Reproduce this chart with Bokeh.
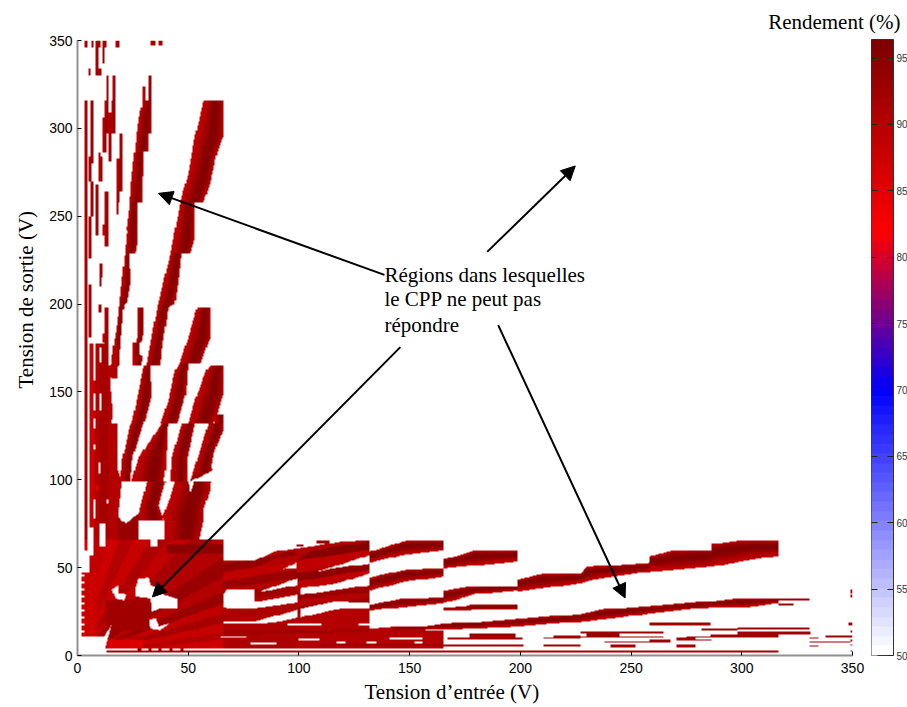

import numpy as np
from bokeh.plotting import figure
from bokeh.embed import file_html
from bokeh.resources import INLINE
from bokeh.models import LinearColorMapper, ColorBar, FixedTicker, Label, Arrow, NormalHead, Range1d, Title

XLABEL = "Tension d\u2019entr\u00e9e (V)"
YLABEL = "Tension de sortie (V)"
BARTITLE = "Rendement (%)"
NOTE = ["R\u00e9gions dans lesquelles", "le CPP ne peut pas", "r\u00e9pondre"]
TICKS = [0, 50, 100, 150, 200, 250, 300, 350]
BAR_TICKS = [50, 55, 60, 65, 70, 75, 80, 85, 90, 95]
LOW, HIGH = 50, 96.4

# colour map anchor points (value, r, g, b)
CMAP_STOPS = [(50, 255, 255, 255), (70, 0, 0, 255), (82, 255, 0, 0), (96.4, 128, 0, 0)]

# operating regions: (input V, output V) outlines
RAYS = [
    [(57,316),(66,316),(66,296),(63,286),(60,269),(57,258),(53,258),(53,237),(51,229),(47,229),(46,217),(44,200),(41,198),(39,181),(38,172),(37.5,165),(31,165),(36,198),(42,229),(44,242),(47,261),(50,274),(53,295)],
    [(54,198),(60,198),(60,181),(55.5,166),(50,166),(49,149),(45,132),(37.5,132),(41,145),(44,162),(46,166),(50,181)],
    [(60,165),(66,165),(66,149),(61.5,132),(50,132),(53,145),(58,162)],
    [(30,165),(33,165),(33.5,147),(30,132),(24.5,132),(27,147)],
    [(22,242),(23.5,255),(24,267),(26,289),(27,301),(28.5,312),(29.3,312),(29.3,324),(30.5,324),(30.5,316),(32,316),(32,330),(33.5,330),(33.5,297),(32,297),(32,287),(30,287),(29.5,258),(27,258),(27,242)],
    [(22.4,242),(27.2,242),(27.2,236.4),(26.1,229),(23.6,228.8),(23.9,211.7),(22.4,201.3),(20.9,199.4),(20.4,190.8),(19.4,177.5),(18.9,165),(17.9,164),(17.9,157.5),(15.6,157.5),(15.3,151),(15.2,165),(16.1,175.6),(17.9,189),(19.4,206),(20.9,223)],
    [(27,198),(30,198),(30,183),(29,178),(26.5,178),(27,183)],
    [(25,178),(28,178),(28,172),(29.5,170),(29,165),(25,165)],
    # y 99-132 rays
    [(23.9,132),(29.9,132),(24.9,113),(23.9,99),(19.4,99),(20.1,111.2)],
    [(38.1,132),(40.8,132),(39.9,106.5),(38.9,99),(24.3,99),(27.6,113),(30.9,118.8)],
    [(47.1,132),(53.1,132),(49.4,111),(49.4,99),(41.9,99),(42.6,113)],
    [(59.1,132),(65.9,132),(65.9,128),(62,117),(60.5,108),(61,105),(56,102),(50.9,99)],
    [(62,137),(66,137),(66,132),(62,132)],
    # y 66-99 rays
    [(31.4,99),(39.9,99),(36.6,85.6),(38.9,77),(27.6,77),(27.6,80.8)],
    [(44.1,99),(60.3,99),(59.9,94),(56.9,82.7),(56.9,76),(54.9,66),(39.6,66),(39.6,76),(38.4,79),(41.9,90)],
]
STRIPS = [
    [(3.2,60),(4.5,60),(4.5,316),(3.2,316)],
    [(6.2,280),(7.1,280),(7.1,316),(6.2,316)],
    [(5,270),(6.7,270),(6.7,284),(5,284)],
    [(6.2,250),(7.1,250),(7.1,270),(6.2,270)],
    [(5,226),(6.7,226),(6.7,250),(5,250)],
    [(5,181),(6.7,181),(6.7,211),(5,211)],
    [(8,258),(9.5,258),(9.5,268),(8,268)],
    [(8,239),(9.3,239),(9.3,258),(8,258)],
    [(9.5,270),(10.5,270),(10.5,286),(9.5,286)],
    [(10,270),(11.5,270),(11.5,284),(10,284)],
    [(3.2,346),(4.5,346),(4.5,350),(3.2,350)],
    [(6.3,346),(7.2,346),(7.2,350),(6.3,350)],
    [(8,346),(10.4,346),(10.4,350),(8,350)],
    [(11.3,346),(13,346),(13,350),(11.3,350)],
    [(17,346),(19,346),(19,350),(17,350)],
    [(33,347),(35,347),(35,350),(33,350)],
    [(36.5,347),(38.4,347),(38.4,350),(36.5,350)],
    [(8,330),(9.5,330),(9.5,347),(8,347)],
    [(11.3,337),(12.2,337),(12.2,347),(11.3,347)],
    [(5,330),(6.2,330),(6.2,334),(5,334)],
    [(9.7,330),(11,330),(11,334),(9.7,334)],
    [(13,316),(14,316),(14,330),(13,330)],
    [(16.2,316),(17.2,316),(17.2,330),(16.2,330)],
    [(12.2,297),(14,297),(14,316),(12.2,316)],
    [(14,297),(16.6,297),(16.6,309),(14,309)],
    [(15.3,297),(16.8,297),(16.8,316),(15.3,316)],
    [(11.3,286),(13,286),(13,306),(11.3,306)],
    [(14,281),(15.3,281),(15.3,297),(14,297)],
    [(19,283),(20.3,283),(20.3,297),(19,297)],
    [(17.6,264),(20.3,264),(20.3,283),(17.6,283)],
    [(17.6,258),(19,258),(19,264),(17.6,264)],
    [(17.3,251),(18.6,251),(18.6,258),(17.3,258)],
    [(12.2,239),(14,239),(14,264),(12.2,264)],
    [(11.3,239),(13,239),(13,245),(11.3,245)],
    [(12,233),(14,233),(14,243),(12,243)],
    [(10,215),(11.5,215),(11.5,223),(10,223)],
    [(10,210),(11,210),(11,215),(10,215)],
    [(9.5,195),(11,195),(11,200),(9.5,200)],
    [(12.2,183),(14,183),(14,198),(12.2,198)],
    [(11.3,178),(14,178),(14,183),(11.3,183)],
]
CLUSTER = [
    [(5.4,128),(5.4,177.5),(11.9,177.5),(11.9,183),(14.1,183),(14.1,165),(15.2,165),(15.2,151),(15.9,141.4),(15.6,128)],
    [(5.4,66),(5.4,139.7),(15.6,139.7),(15.6,132),(17.9,132),(17.9,106.5),(20.1,99),(18.3,79),(21.6,75),(21.6,66)],
    [(21.6,75),(27.6,80.8),(27.6,66),(21.6,66)],
]
BASE = [
    [(2.2,47),(2.2,11),(12,11),(15.5,17.5),(14,11),(12.6,5),(12.6,4),(66,4),(66,66),(5.4,66),(5.4,47)],
    [(66,4),(66,54),(80,54),(89,59),(99,61),(106,62),(118.7,64.8),(132,65.7),(132,4)],
    [(132,4),(132,15.4),(143,16.4),(156,16.4),(165.6,18),(165.6,4)],
]
# shaded sectors of the x,y<=66 block: (slope low, slope high, value)
FAN = [(0.0,0.08,86),(0.08,0.14,87),(0.14,0.2,90),(0.2,0.28,88),(0.28,0.36,92),(0.36,0.45,89),(0.45,0.55,93),
       (0.55,0.68,90),(0.68,0.85,93),(0.85,1.05,90),(1.05,1.3,92),(1.3,1.6,89),(1.6,2,91),
       (2,2.6,88),(2.6,3.5,90),(3.5,5,87),(5,9,89),(9,30,86)]
FAN_LIMIT = 66
# flat tint overlays on the filled regions: (value, outline)
TINTS = [
    (87, [(2.2,47),(2.2,11),(9,11),(9,47)]),
    (86, [(13,4),(30,4),(30,9),(13,9)]),
    (92.5, [(12.6,14),(33,14),(33,31.6),(12.6,31.6)]),
    (94.5, [(40,58),(66,58),(66,63),(40,63)]),
    # bands of the 66-99 V block
    (91, [(66,4),(99,4),(99,21),(66,17)]),
    (94, [(66,48),(80,50),(89,55),(99,57),(99,60),(89,57),(66,52)]),
    (89, [(66,42),(99,50),(99,54),(66,47)]),
    (93, [(66,38),(99,44),(99,49),(66,42)]),
    (92.5, [(66,31),(99,35),(99,40),(66,36)]),
    (91, [(66,20),(99,26),(99,30),(66,26)]),
    # bands of the 99-132 V block
    (90, [(99,4),(132,4),(132,25),(99,21)]),
    (95, [(99,54),(132,60),(132,65),(106,60)]),
    (89, [(99,47),(132,57),(132,60),(99,54)]),
    (94.5, [(99,42),(132,49),(132,52),(99,47)]),
    (89, [(99,38),(132,46),(132,49),(99,42)]),
    (93.5, [(99,32),(132,36),(132,39),(99,35)]),
    (93, [(99,24),(132,30),(132,33),(99,28)]),
    (92.5, [(66,12),(132,13),(132,15),(66,14)]),
    # columns of the dense cluster
    (87, [(5.4,66),(7.5,66),(7.5,180),(5.4,180)]),
    (90, [(7.5,66),(10,66),(10,180),(7.5,180)]),
    (92, [(10,66),(14,66),(14,180),(10,180)]),
    (90, [(14,66),(18,66),(18,180),(14,180)]),
    (93, [(18,66),(28,66),(28,81),(18,81)]),
    (85.5, [(8,94),(9.6,94),(9.6,97),(8,97)]),
]
# output voltages of the notches on the left edge of the low block
NOTCH_Y = [13, 17, 21, 25, 29, 33, 37, 41, 45]
# white gaps
HOLES = [
    [(6.9,156.6),(8.1,156.6),(8.1,177.5),(6.9,177.5)],
    [(9.9,167),(11.1,167),(11.1,175.6),(9.9,175.6)],
    [(6.9,139.5),(8.1,139.5),(8.1,149),(6.9,149)],
    [(9.9,139.5),(11.1,139.5),(11.1,149),(9.9,149)],
    [(6.9,129),(8.1,129),(8.1,135),(6.9,135)],
    [(7,117),(8,117),(8,120),(7,120)],
    [(9.3,103.6),(10.4,103.6),(10.4,110),(9.3,110)],
    [(7,78),(8,78),(8,89),(7,89)],
    [(13,86.5),(14,86.5),(14,89),(13,89)],
    [(10,62),(12.3,62),(12.3,75),(10,75)],
    [(5,57),(7,57),(7,73),(5,73)],
    [(50.1,99),(52.8,99),(50.9,92.2)],
    [(26.1,39.2),(27.6,43.9),(32.2,44.5),(33,40),(38.2,38.8),(38.9,34.4),(45,32.5),(45.2,26.8),(36.7,26.3),(33.7,25),(33,32.5),(26.1,33.5)],
    [(15.6,37.3),(18.6,40.1),(18.6,35.4),(22,34.4),(20.9,31.6),(17.1,32.5)],
    [(32.2,20.2),(35.2,21.2),(36.7,16.4),(41.2,18),(37.4,14.5),(32.9,15.5)],
    [(33,62),(36,62),(36,66),(33,66)],
    [(93,49),(99,53),(99,49.5),(93,49.5)],
    [(82,36.3),(99.4,43.9),(99.4,40),(87,37)],
    [(66,35.4),(68,37.6),(80,37.6),(80,30.6),(99.4,34.4),(99.4,30),(80,27),(69,26.8),(66,27.8)],
    [(66,19.7),(81,19.7),(99.3,25.8),(99.3,21.4),(84,17.8),(66,17.8)],
    [(107.4,47.7),(115.6,50.5),(132.2,57.2),(132.2,52.4),(115.6,49.6)],
    [(100.6,38.2),(117,41),(132.2,46.7),(132.2,40),(117,37.3),(100.6,34.4)],
    [(100.6,26.8),(116.4,30.6),(132.2,29.7),(132.2,26.8),(117,26.2),(100.6,21.7)],
    [(95,17),(110,17),(110,18),(95,18)],
    [(127,17),(132,17),(132,18),(127,18)],
    [(64.5,10.2),(76.5,10.2),(76.5,11),(64.5,11)],
    [(78,6.5),(90,6.5),(90,7.4),(78,7.4)],
    [(100,8.4),(109.6,8.4),(109.6,9.4),(100,9.4)],
    [(117,7.2),(121,7.2),(121,8),(117,8)],
    [(130.6,7.2),(135,7.2),(135,8),(130.6,8)],
    [(156,14.4),(165.6,14.4),(165.6,15.2),(156,15.2)],
    [(141,9),(156,9),(156,10.3),(141,10.3)],
    [(152,7),(156,7),(156,7.8),(152,7.8)],
]
# input-side band pieces (near-horizontal rays)
BANDS = [
    [(132,59),(148,65.3),(165.6,65.3),(165.6,59.6),(147,57.2),(132,52.8)],
    [(165.6,54.7),(179.6,59.6),(198.4,59.6),(198.4,53.4),(165.6,49.6)],
    [(198.4,43.3),(210,46.4),(227,46.4),(230,50.5),(258.6,52.8),(258.6,56.6),(269,59.6),(286.4,60),(286.4,63.4),(297.7,65.3),(316.5,65.3),(316.5,56.6),(302,54),(286.4,50.5),(258.6,47.7),(236,43.9),(227,41),(198.4,36.3)],
    [(132,44.5),(148.8,49),(165.6,49.6),(165.6,44.9),(148,42),(132,36.9)],
    [(165.6,36.9),(177.4,39.2),(198.4,39.5),(198.4,36.9),(180.4,35),(165.6,30)],
    [(132,28.7),(146.5,32.5),(165.6,32.9),(165.6,29.7),(146,27.4),(132,25.5)],
    [(165.6,25.5),(165.6,27.5),(175,28),(178,29),(198.4,29),(198.4,26.2),(180,26),(176,25.5)],
    [(143,16.4),(156,16.4),(165.6,18),(180,19),(198.4,20.8),(227,23.6),(237.5,26.3),(258.6,28.2),(286.4,31),(297.7,32.5),(316.5,32.5),(316.5,29.7),(302,27.4),(286.4,27.4),(259,24),(245,21.5),(227,19.2),(198.4,16.4),(180,15.5),(165.6,14.9),(143,14.5)],
]
# thin bars: input from, input to, output low, output high
BARS = [
    (316.5,323.3,28.7,29.7),(316.5,330.5,31.6,32.5),
    (252.6,298,18.3,19.2),(258.6,265,17,18.4),(265,286,16.8,19.2),
    (282,298,14,15.4),(298,316,14.8,16.2),(316,330.5,15,16),
    (227,264.6,12.4,13.5),(230,245,10.4,12.4),(227,264.6,10.4,11),
    (275,306,10.4,11),(286,316.5,10.4,12),(298,331,12.2,13.5),
    (238,268,7.5,8.2),(258.6,268,8,9.2),(270.6,286.4,8.5,9.2),(270.6,279,9.2,10.7),
    (110,316.5,5.8,6.5),(240.5,252,4.6,6.3),(270.6,279,4.6,6.3),
    (13,316.5,1.6,3.2),
    (330.5,334.7,9.7,10.5),(330.5,349,7.5,8.2),(330.5,334.7,4.8,5.6),(338,349,10.3,11.3),
    (349,350,35.7,37.6),(349,350,33,34.4),(348,350,16.8,18.3),(349,350,13,14),
    (349,350,10.3,11.6),(349,350,8,9.2),(349,350,5.4,6.5),(349,350,2.2,3.1),
    (177,198,10.7,12.6),(167,201,9,10.5),(110,201.5,5,6.5),
    (210.5,227,9.6,10.3),(215,227,10.3,11.3),(210.5,227,5,6.3),
    (108,114,64,65.7),(99,102,62,63),
    (27,29,2,4),(32,33.5,2,4),(36.5,38,2,4),(41.5,43,2,4),(46.5,48,2,4),
]
# arrows: start input, start output, tip input, tip output
ARROWS = [
    (138.6, 216.6, 36.6, 263.0),
    (185.0, 229.7, 224.8, 278.6),
    (145.8, 175.5, 33.8, 33.3),
    (190.0, 188.0, 247.3, 32.7),
]

# --- raster -----------------------------------------------------------------
NX, NY = 700, 700
xc = (np.arange(NX) + 0.5) * 350 / NX
yc = (np.arange(NY) + 0.5) * 350 / NY
grid = np.full((NY, NX), np.nan)
X, Y = np.meshgrid(xc, yc)


def poly_mask(poly):
    pts = np.array(poly, float)
    inside = np.zeros(X.shape, bool)
    i0 = max(int(pts[:, 0].min() * NX / 350) - 1, 0)
    i1 = min(int(pts[:, 0].max() * NX / 350) + 2, NX)
    j0 = max(int(pts[:, 1].min() * NY / 350) - 1, 0)
    j1 = min(int(pts[:, 1].max() * NY / 350) + 2, NY)
    XS, YS = X[j0:j1, i0:i1], Y[j0:j1, i0:i1]
    sub = np.zeros(XS.shape, bool)
    px, py = pts[:, 0], pts[:, 1]
    for k in range(len(px)):
        x0, y0, x1, y1 = px[k], py[k], px[k - 1], py[k - 1]
        if y0 == y1:
            continue
        cross = ((y0 > YS) != (y1 > YS)) & (XS < (x1 - x0) * (YS - y0) / (y1 - y0) + x0)
        sub ^= cross
    inside[j0:j1, i0:i1] = sub
    return inside


def paint(poly, vlo, vhi, axis):
    m = poly_mask(poly)
    if vlo == vhi:
        grid[m] = vlo
        return
    it = range(NX) if axis == 0 else range(NY)
    for i in it:
        line = m[:, i] if axis == 0 else m[i, :]
        idx = np.nonzero(line)[0]
        if idx.size == 0:
            continue
        t = (idx - idx[0] + 0.5) / (idx[-1] - idx[0] + 1)
        v = vlo + (vhi - vlo) * np.sin(np.pi * t ** 1.5)
        if axis == 0:
            grid[idx, i] = v
        else:
            grid[i, idx] = v


for poly in BASE:
    paint(poly, 90, 90, 0)
for poly in CLUSTER:
    paint(poly, 90, 90, 1)
for poly in STRIPS:
    paint(poly, 88, 94, 1)
for poly in RAYS:
    paint(poly, 88.5, 95.5, 1)
# sectors through the origin
block = (X <= FAN_LIMIT) & (Y <= FAN_LIMIT) & ~np.isnan(grid)
with np.errstate(divide="ignore"):
    slope = Y / X
for s0, s1, v in FAN:
    grid[block & (slope >= s0) & (slope < s1)] = v
for v, poly in TINTS:
    m = poly_mask(poly) & ~np.isnan(grid)
    grid[m] = v
for poly in HOLES:
    grid[poly_mask(poly)] = np.nan
for y in NOTCH_Y:
    grid[poly_mask([(2, y), (3.2, y), (3.2, y + 1.2), (2, y + 1.2)])] = np.nan
for poly in BANDS:
    paint(poly, 88.5, 95.8, 0)
for x0, x1, y0, y1 in BARS:
    paint([(x0, y0), (x1, y0), (x1, y1), (x0, y1)], 90, 94, 0)

# --- palette ----------------------------------------------------------------
palette = []
stops = np.array(CMAP_STOPS, float)
for lev in np.linspace(LOW, HIGH, 64):
    r = np.interp(lev, stops[:, 0], stops[:, 1])
    g = np.interp(lev, stops[:, 0], stops[:, 2])
    b = np.interp(lev, stops[:, 0], stops[:, 3])
    palette.append("#%02x%02x%02x" % (int(r), int(g), int(b)))

mapper = LinearColorMapper(palette=palette, low=LOW, high=HIGH, nan_color="white")

p = figure(width=907, height=707, x_range=Range1d(0, 350), y_range=Range1d(0, 350),
           output_backend="svg", toolbar_location=None, title=BARTITLE,
           min_border_left=77, min_border_right=55, min_border_top=40, min_border_bottom=52)
p.outline_line_color = None
p.grid.visible = False
p.background_fill_color = "white"
p.image(image=[grid], x=0, y=0, dw=350, dh=350, color_mapper=mapper)

p.title.align = "right"
p.title.offset = -48
p.title.text_font = "Liberation Serif"
p.title.text_font_size = "21px"
p.title.text_font_style = "normal"
p.title.text_color = "black"
p.title.standoff = 13

for ax in (p.xaxis[0], p.yaxis[0]):
    ax.ticker = FixedTicker(ticks=TICKS)
    ax.major_label_text_font = "Liberation Sans"
    ax.major_label_text_font_size = "14px"
    ax.major_label_text_color = "black"
    ax.axis_line_color = "#909090"
    ax.axis_line_width = 2
    ax.major_tick_line_color = "black"
    ax.major_tick_in = 4
    ax.major_tick_out = 0
    ax.minor_tick_in = 0
    ax.minor_tick_out = 0
p.xaxis[0].major_label_standoff = 7
p.yaxis[0].major_label_standoff = 5

cb = ColorBar(color_mapper=mapper, ticker=FixedTicker(ticks=BAR_TICKS), width=22, height=616,
              location=(794, 0), padding=0, margin=0, major_tick_in=6, major_tick_out=0,
              major_tick_line_color="#222222", major_label_text_font="Liberation Sans",
              major_label_text_font_size="10px", major_label_text_color="#333333",
              bar_line_color="#333333", bar_line_width=1, label_standoff=3,
              background_fill_alpha=0, border_line_color=None, title=None)
p.add_layout(cb, "center")
# a narrow twin supplies the ticks on the bar's left edge
cb_left = ColorBar(color_mapper=mapper, ticker=FixedTicker(ticks=BAR_TICKS[1:]), width=6, height=616,
                   location=(794, 0), padding=0, margin=0, major_tick_in=6, major_tick_out=0,
                   major_tick_line_color="#222222", major_label_text_font_size="0px",
                   major_label_text_alpha=0, bar_line_color=None, label_standoff=0,
                   background_fill_alpha=0, border_line_color=None, title=None)
p.add_layout(cb_left, "center")

for x0, y0, x1, y1 in ARROWS:
    p.add_layout(Arrow(end=NormalHead(size=14, fill_color="black", line_color="black"),
                       x_start=x0, y_start=y0, x_end=x1, y_end=y1,
                       line_color="black", line_width=2))

NOTE_Y = [216.5, 203, 188]
for txt, y in zip(NOTE, NOTE_Y):
    p.add_layout(Label(x=138.6, y=y, text=txt, text_font="Liberation Serif", text_font_size="21px",
                       text_baseline="middle", text_color="black"))

# axis titles sit off-centre in the reference, so they are side-panel titles with an offset
xt = Title(text=XLABEL, align="left", offset=287, text_font="Liberation Serif", text_font_size="21px",
           text_font_style="normal", text_color="black", standoff=4)
yt = Title(text=YLABEL, align="left", offset=267, text_font="Liberation Serif", text_font_size="21px",
           text_font_style="normal", text_color="black", standoff=17)
p.add_layout(xt, "below")
p.add_layout(yt, "left")

open("out.html", "w").write(file_html(p, INLINE))
